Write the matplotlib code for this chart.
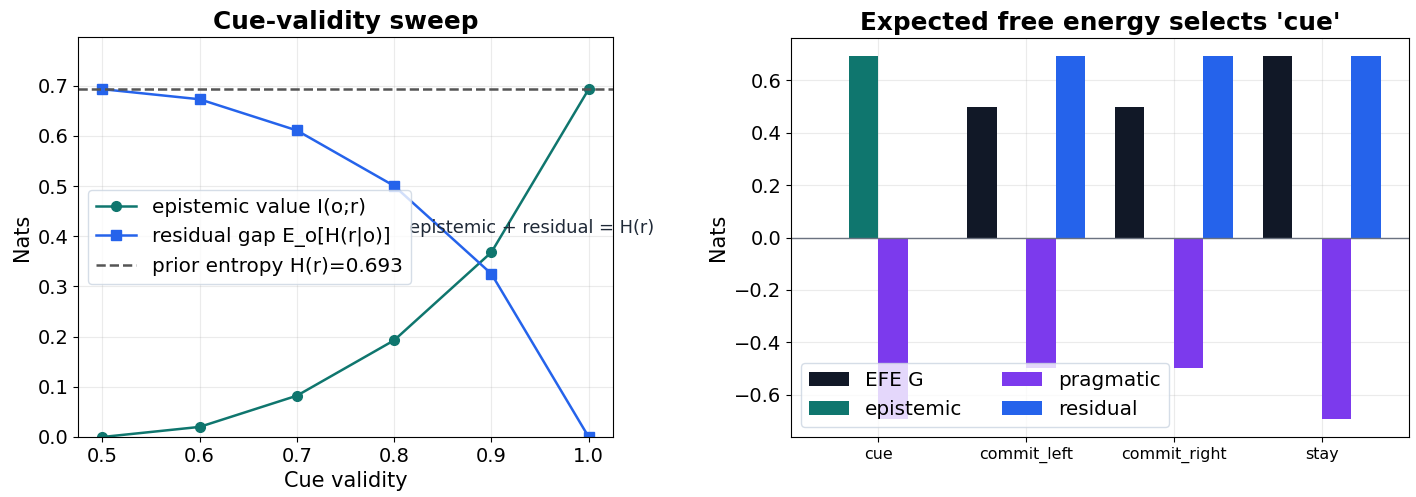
import numpy as np
import matplotlib
matplotlib.use('Agg')
import matplotlib.pyplot as plt

# cue-validity sweep
validity = [0.5, 0.6, 0.7, 0.8, 0.9, 1.0]
epistemic_sweep = [0.0, 0.0201, 0.0823, 0.1927, 0.3681, 0.6931]
residual_sweep = [0.6931, 0.6730, 0.6109, 0.5004, 0.3251, 0.0]
prior_H = 0.6931

# expected free energy per action
actions = ['cue', 'commit_left', 'commit_right', 'stay']
efe_G = [0.0, 0.5, 0.5, 0.6931]
epistemic = [0.6931, 0.0, 0.0, 0.0]
pragmatic = [-0.6931, -0.5, -0.5, -0.6931]
residual = [0.0, 0.6931, 0.6931, 0.6931]

c_epi = '#0f766e'
c_res = '#2563eb'
c_G = '#111827'
c_prag = '#7c3aed'

fig = plt.figure(figsize=(14.16, 4.97), dpi=100)
ax1 = fig.add_axes([78/1416, 1 - 437/497, (613-78)/1416, (437-37)/497])
ax2 = fig.add_axes([791/1416, 1 - 437/497, (1409-791)/1416, (437-38)/497])

ax1.plot(validity, epistemic_sweep, '-o', color=c_epi, lw=1.8, ms=7, label='epistemic value I(o;r)')
ax1.plot(validity, residual_sweep, '-s', color=c_res, lw=1.8, ms=7, label='residual gap E_o[H(r|o)]')
ax1.axhline(prior_H, color='#555555', ls='--', lw=1.8, label=f'prior entropy H(r)={prior_H:.3f}')
ax1.text(0.815, prior_H * 0.6, 'epistemic + residual = H(r)', fontsize=12.9,
         color='#1f2937', ha='left', va='center')
ax1.set_ylim(0, prior_H * 1.15)
ax1.set_xlabel('Cue validity', fontsize=15)
ax1.set_ylabel('Nats', fontsize=15)
ax1.set_title('Cue-validity sweep', fontsize=17.8, fontweight='bold')
ax1.tick_params(labelsize=14)
ax1.grid(True, alpha=0.25)
ax1.legend(loc='center left', fontsize=14.4, edgecolor='#cbd5e1')

x = np.arange(len(actions))
w = 0.2
ax2.bar(x - 1.5*w, efe_G, w, color=c_G, label='EFE G')
ax2.bar(x - 0.5*w, epistemic, w, color=c_epi, label='epistemic')
ax2.bar(x + 0.5*w, pragmatic, w, color=c_prag, label='pragmatic')
ax2.bar(x + 1.5*w, residual, w, color=c_res, label='residual')
ax2.axhline(0, color='#6b7280', lw=1)
ax2.set_xticks(x)
ax2.set_xticklabels(actions, fontsize=11.4)
ax2.tick_params(axis='y', labelsize=14)
ax2.set_ylabel('Nats', fontsize=15)
ax2.set_title("Expected free energy selects 'cue'", fontsize=17.8, fontweight='bold')
ax2.grid(True, alpha=0.25)
ax2.set_axisbelow(True)
ax2.legend(loc='lower left', ncol=2, fontsize=14.4, edgecolor='#cbd5e1')

fig.savefig('out.png', dpi=100)
